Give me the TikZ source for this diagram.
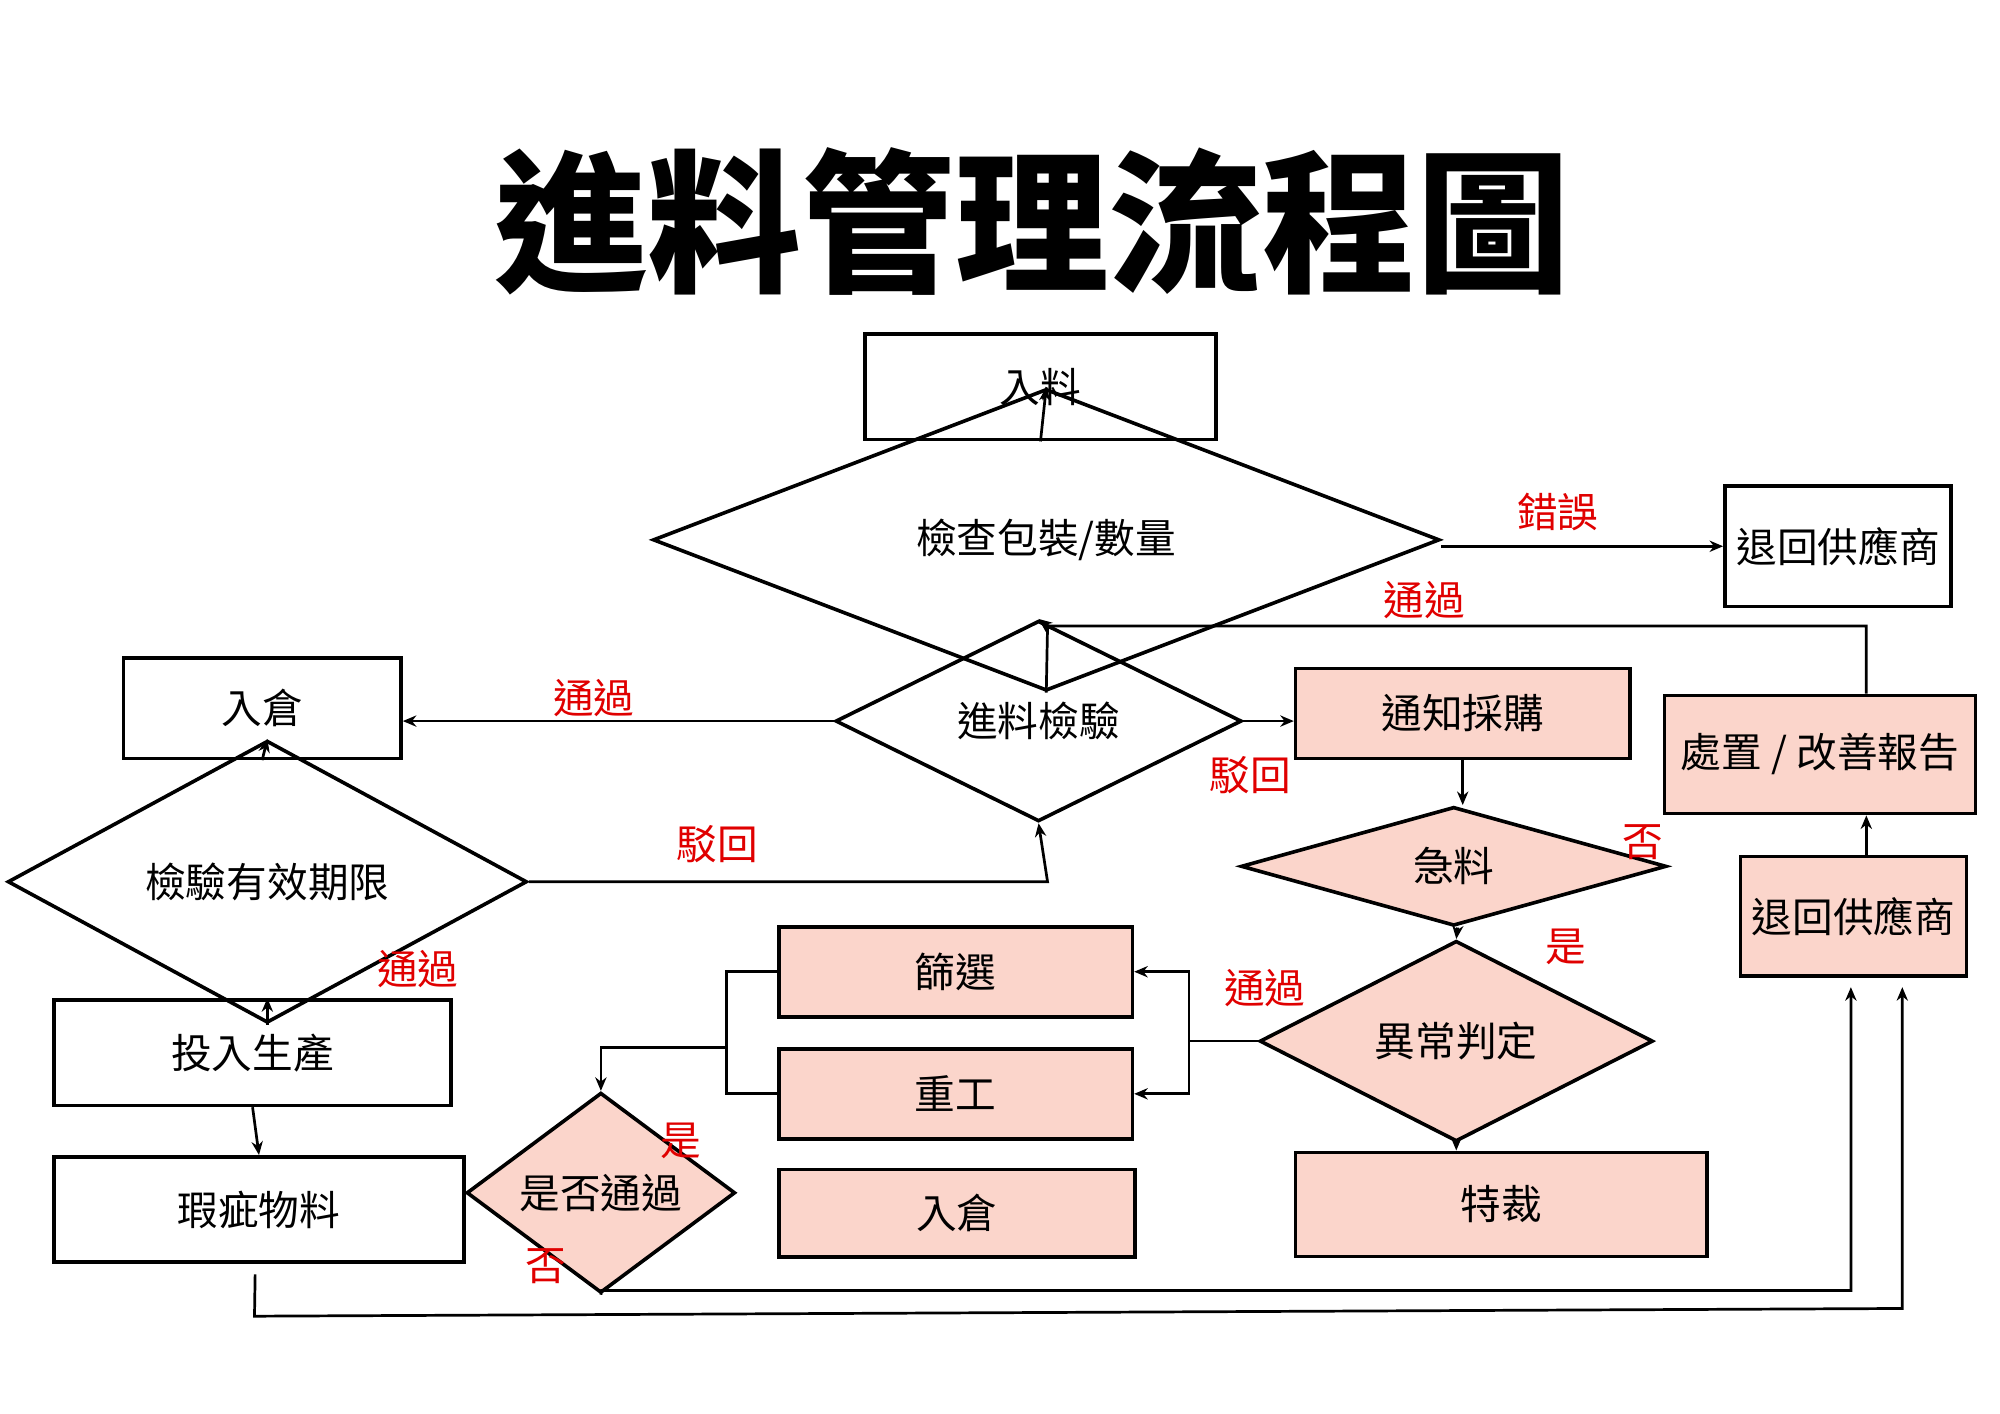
\documentclass[tikz,border=0pt]{standalone}
\usepackage{fontspec}
\setmainfont{Noto Sans CJK TC}
\usetikzlibrary{shapes.geometric,arrows.meta}
\definecolor{pk}{HTML}{FBD5CB}
\definecolor{rd}{HTML}{E00000}
\tikzset{
 bx/.style={draw,thick,inner sep=0,font=\fontsize{9}{10}\selectfont},
 pb/.style={bx,fill=pk},
 dm/.style={draw,thick,diamond,inner sep=0,font=\fontsize{9}{10}\selectfont},
 pd/.style={dm,fill=pk},
 lb/.style={text=rd,font=\fontsize{9}{10}\selectfont},
 ar/.style={-{Stealth[length=3pt,width=2.5pt]},semithick},
 ln/.style={semithick}
}
\newcommand{\bxat}[6]{\node[#1,minimum width=#4*0.01cm,minimum height=#5*0.01cm] (#2) at (#3) {#6};}
\begin{document}
\begin{tikzpicture}[x=0.01cm,y=-0.01cm]
\useasboundingbox (0,0) rectangle (1556,1100);
\node[font=\fontsize{34}{36}\selectfont\bfseries] (title) at (803,172) {進料管理流程圖};
\bxat{bx}{in}{809.5,301}{273}{82}{入料}
\bxat{dm}{d1}{814,420}{612}{104}{檢查包裝/數量}
\bxat{bx}{ret1}{1430,425}{176}{94}{退回供應商}
\bxat{dm}{d2}{808,561}{316}{108}{進料檢驗}
\bxat{bx}{wh}{204,551}{216}{78}{入倉}
\bxat{pb}{notify}{1138,555}{260}{70}{通知採購}
\bxat{dm}{d3}{208,686}{404}{142}{檢驗有效期限}
\bxat{bx}{prod}{196.5,819}{309}{82}{投入生產}
\bxat{bx}{def}{201.5,941}{319}{82}{瑕疵物料}
\bxat{pd}{urg}{1131,674}{331}{92}{急料}
\bxat{pb}{rep}{1416,587}{242}{92}{處置 / 改善報告}
\bxat{pb}{ret2}{1442,713}{176}{93}{退回供應商}
\bxat{pd}{judge}{1133,810}{306}{106}{異常判定}
\bxat{pb}{spec}{1168,937}{320}{81}{特裁}
\bxat{pb}{sieve}{743.5,756}{275}{70}{篩選}
\bxat{pb}{rework}{743.5,851}{275}{70}{重工}
\bxat{pb}{wh2}{744.5,944}{277}{68}{入倉}
\bxat{pd}{pass}{467.5,928}{209}{83}{是否通過}
% connectors
\draw[ar] (in.south) -- (d1.north);
\draw[ar] (d1.east) ++(0,5) -- ([yshift=0pt]ret1.west |- 0,425);
\draw[ln] (d1.south) -- (815,487);
\draw[ar] (rep.north -| 1452,0) -- (1452,487) -- (815,487) -- (d2.north);
\draw[ar] (d2.west) -- (wh.east |- d2.west);
\draw[ar] (d2.east) -- (notify.west |- d2.east);
\draw[ar] (wh.south) -- (d3.north);
\draw[ar] (d3.east) -- (815,686) -- (d2.south);
\draw[ar] (d3.south) -- (prod.north -| d3.south);
\draw[ar] (prod.south) -- (def.north);
\draw[ar] (notify.south) -- (urg.north -| notify.south);
\draw[ar] (urg.south -| 1134,0) -- (judge.north);
\draw[ar] (judge.south) -- (spec.north -| judge.south);
\draw[ar] (ret2.north -| 1452,0) -- (rep.south -| 1452,0);
\draw[ln] (judge.west) -- (925,810);
\draw[ar] (925,810) |- (sieve.east);
\draw[ar] (925,810) |- (rework.east);
\draw[ln] (sieve.west) -| (565,851) -- (rework.west);
\draw[ar] (565,815) -| (pass.north);
\coordinate (r1) at (1440,768);
\coordinate (r2) at (1480,768);
\draw[ar] (pass.south) -- (468,1004) -| (r1);
\draw[ar] (def.south) ++(-3,8) -- (198,1024) -- (1480,1018) -- (r2);
% labels
\node[lb] (l1) at (1212,398) {錯誤};
\node[lb] (l2) at (1108,467) {通過};
\node[lb] (l3) at (462,543) {通過};
\node[lb] (l4) at (973,603) {駁回};
\node[lb] (l5) at (558,657) {駁回};
\node[lb] (l6) at (1278,655) {否};
\node[lb] (l7) at (325,754) {通過};
\node[lb] (l8) at (1218,737) {是};
\node[lb] (l9) at (984,769) {通過};
\node[lb] (l10) at (530,888) {是};
\node[lb] (l11) at (425,985) {否};
\end{tikzpicture}
\end{document}
